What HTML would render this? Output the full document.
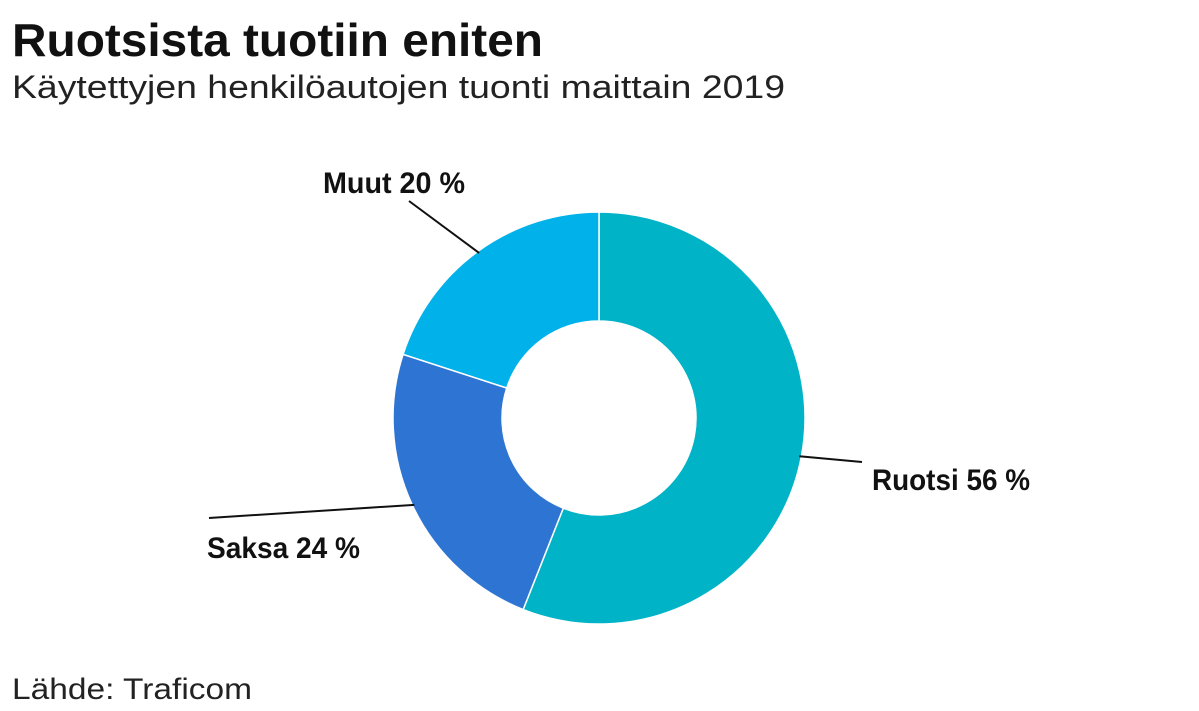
<!DOCTYPE html>
<html><head><meta charset="utf-8">
<style>
html,body{margin:0;padding:0;background:#fff;}
svg{display:block;font-family:"Liberation Sans",sans-serif;}
</style></head>
<body>
<svg id="chart" width="1199" height="711" viewBox="0 0 1199 711">
  <text x="12" y="56" font-size="46" font-weight="bold" fill="#111" textLength="531" lengthAdjust="spacingAndGlyphs">Ruotsista tuotiin eniten</text>
  <text x="12" y="98" font-size="32" fill="#222" textLength="773" lengthAdjust="spacingAndGlyphs">Käytettyjen henkilöautojen tuonti maittain 2019</text>
  <g id="slices"></g>
  <g id="labels"></g>
  <text x="12" y="699" font-size="30" fill="#222" textLength="240" lengthAdjust="spacingAndGlyphs">Lähde: Traficom</text>
</svg>
<script>
const categories = ["Ruotsi", "Saksa", "Muut"];
const values = [56, 24, 20];
const colors = ["#00b3c6", "#2e75d3", "#00b1ea"];
const labelPos = [[872, 490, "start", 158], [360, 558, "end", 153], [465, 193, "end", 142]];

const NS = "http://www.w3.org/2000/svg";
const cx = 599, cy = 418, R = 206, r = 97;
const total = values.reduce((a, b) => a + b, 0);
function pt(a, rad) { return [cx + rad * Math.sin(a), cy - rad * Math.cos(a)]; }
const gS = document.getElementById("slices"), gL = document.getElementById("labels");
let acc = 0;
values.forEach((v, i) => {
  const a0 = acc / total * 2 * Math.PI; acc += v;
  const a1 = acc / total * 2 * Math.PI;
  const large = (a1 - a0) > Math.PI ? 1 : 0;
  const [x0, y0] = pt(a0, R), [x1, y1] = pt(a1, R), [x2, y2] = pt(a1, r), [x3, y3] = pt(a0, r);
  const p = document.createElementNS(NS, "path");
  p.setAttribute("d", `M${x0},${y0} A${R},${R} 0 ${large} 1 ${x1},${y1} L${x2},${y2} A${r},${r} 0 ${large} 0 ${x3},${y3} Z`);
  p.setAttribute("fill", colors[i]);
  p.setAttribute("stroke", "#fff");
  p.setAttribute("stroke-width", "1.5");
  
  
  gS.appendChild(p);
  const am = (a0 + a1) / 2;
  const [lx0, ly0] = pt(am, R - 2);
  const [lx, ly, anchor, tw] = labelPos[i];
  const ex = anchor === "start" ? lx - 10 : lx - tw / 2 + (i === 2 ? 15 : -5);
  const ey = i === 2 ? ly + 8 : ly - 34;
  const ln = document.createElementNS(NS, "line");
  ln.setAttribute("x1", lx0); ln.setAttribute("y1", ly0);
  ln.setAttribute("x2", i === 0 ? lx - 10 : (i === 1 ? lx - tw + 2 : ex));
  ln.setAttribute("y2", i === 0 ? ly - 28 : (i === 1 ? ly - 40 : ey));
  ln.setAttribute("stroke", "#111"); ln.setAttribute("stroke-width", "2");
  
  
  gL.appendChild(ln);
  const t = document.createElementNS(NS, "text");
  t.setAttribute("x", lx); t.setAttribute("y", ly);
  t.setAttribute("text-anchor", anchor);
  t.setAttribute("font-size", "30"); t.setAttribute("font-weight", "bold"); t.setAttribute("fill", "#111");
  t.setAttribute("textLength", tw); t.setAttribute("lengthAdjust", "spacingAndGlyphs");
  t.textContent = categories[i] + " " + v + " %";
  
  
  gL.appendChild(t);
});
</script>
</body></html>
